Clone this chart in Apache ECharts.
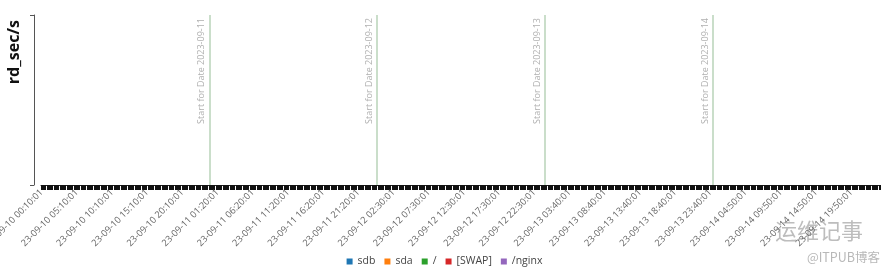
<!DOCTYPE html>
<html>
<head>
<meta charset="utf-8">
<script src="https://cdn.jsdelivr.net/npm/echarts@6/dist/echarts.min.js"></script>
<style>html,body{margin:0;padding:0;background:#fff;}#c{width:889px;height:274px;}</style>
</head>
<body>
<div id="c"></div>
<script>
// Days sampled (sar data, one sample every 10 minutes from 00:10:01 to 23:50:01)
var days = ['23-09-10', '23-09-11', '23-09-12', '23-09-13', '23-09-14'];
var firstSample = '00:10:01';
var lastSample = '23:50:01';
var sampleMinutes = 10;

// Series (no values plotted in the reference)
var seriesNames = ['sdb', 'sda', '/', '[SWAP]', '/nginx'];
var seriesColors = ['#1f77b4', '#ff7f0e', '#2ca02c', '#d62728', '#9467bd'];
var sdb = [];
var sda = [];
var root = [];
var swap = [];
var nginx = [];

// Day-start grid lines
var dayStarts = ['23-09-11 00:10:01', '23-09-12 00:10:01', '23-09-13 00:10:01', '23-09-14 00:10:01'];
var dayStartLabels = ['Start for Date 2023-09-11', 'Start for Date 2023-09-12', 'Start for Date 2023-09-13', 'Start for Date 2023-09-14'];

var yAxisName = 'rd_sec/s';

function pad(n) { return (n < 10 ? '0' : '') + n; }
function toMin(t) { var p = t.split(':'); return (+p[0]) * 60 + (+p[1]); }
var categories = [];
days.forEach(function (d) {
  for (var m = toMin(firstSample); m <= toMin(lastSample); m += sampleMinutes) {
    categories.push(d + ' ' + pad(Math.floor(m / 60)) + ':' + pad(m % 60) + ':01');
  }
});

var dataArrays = [sdb, sda, root, swap, nginx];
var series = seriesNames.map(function (n, i) {
  var s = {
    name: n, type: 'line', data: dataArrays[i], symbol: 'none',
    itemStyle: { color: seriesColors[i] }, lineStyle: { color: seriesColors[i], width: 1 }
  };
  if (i === 0) {
    s.markLine = {
      silent: true, symbol: 'none', animation: false,
      lineStyle: { color: '#b9d3b9', type: 'solid', width: 1.5 },
      label: { show: true, position: 'insideEndTop', color: '#b0b0b0', fontSize: 9,
               fontFamily: 'Open Sans', distance: 3,
               formatter: function (p) { return p.name; } },
      data: dayStarts.map(function (d, k) { return { xAxis: d, name: dayStartLabels[k] }; })
    };
  }
  return s;
});

var chart = echarts.init(document.getElementById('c'), null, { renderer: 'canvas' });
chart.setOption({
  animation: false,
  backgroundColor: '#fff',
  grid: { left: 41, right: 9, top: 15, bottom: 89, containLabel: false, outerBoundsMode: 'none' },
  legend: {
    bottom: 2, left: 'center', icon: 'rect', itemWidth: 6, itemHeight: 6, itemGap: 9,
    textStyle: { color: '#444', fontSize: 10.5, fontFamily: 'Open Sans' },
    data: seriesNames
  },
  xAxis: {
    type: 'category', data: categories, boundaryGap: true,
    axisLine: { lineStyle: { color: '#222', width: 1 } },
    axisTick: { show: true, interval: 0, length: 5, lineStyle: { color: '#111', width: 1 } },
    axisLabel: { interval: 29, rotate: 45, fontSize: 9.2, color: '#666', fontFamily: 'Open Sans', margin: 6 },
    splitLine: { show: false }
  },
  yAxis: {
    type: 'value', min: 0, max: 1, interval: 1, offset: 7,
    axisLine: { show: true, lineStyle: { color: '#555', width: 1 } },
    axisTick: { show: true, length: 4, lineStyle: { color: '#555' } },
    axisLabel: { show: false },
    splitLine: { show: false }
  },
  graphic: [
    { type: 'text', left: 6, top: 20, rotation: Math.PI / 2,
      style: { text: yAxisName, fill: '#111', font: 'bold 16px "Open Sans", sans-serif' } },
    { type: 'text', right: 26, top: 220,
      style: { text: '运维记事', fill: '#bdbdbd', font: '22px "Noto Sans CJK SC"' } },
    { type: 'text', right: 9, top: 251,
      style: { text: '@ITPUB博客', fill: '#b8b8b8', font: '12.5px "Noto Sans CJK SC"' } }
  ],
  series: series
});
</script>
</body>
</html>
